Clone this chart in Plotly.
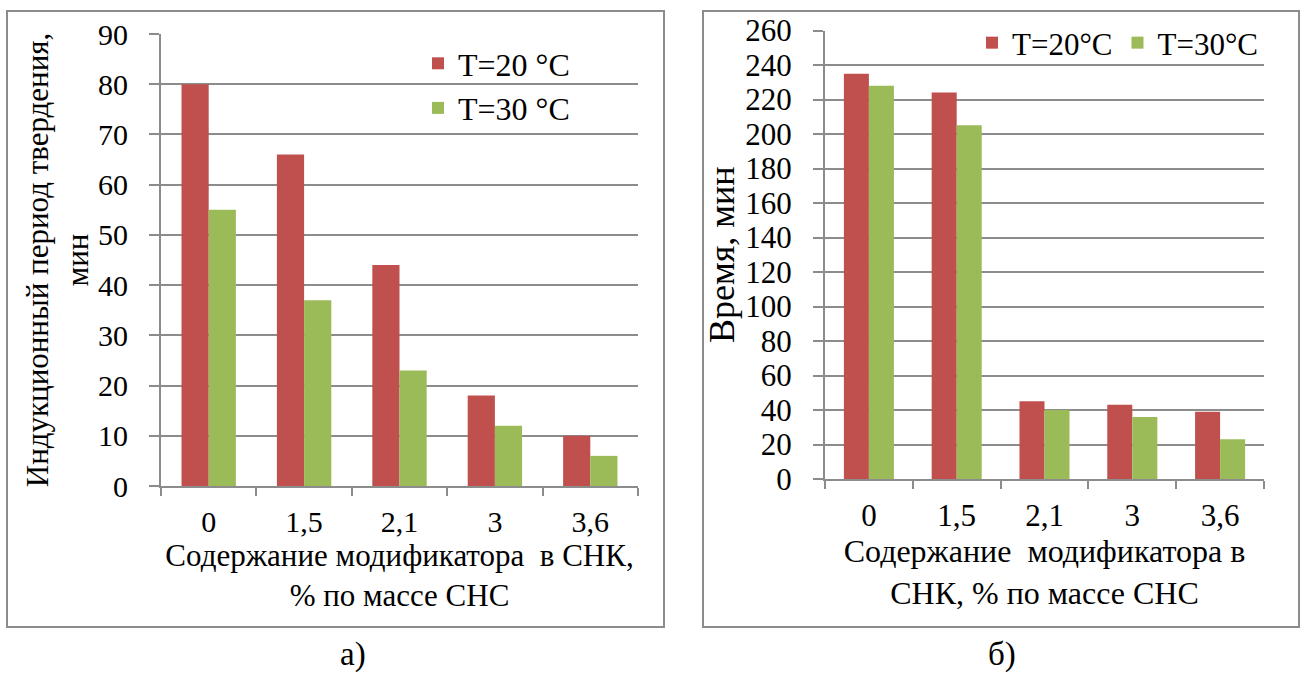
import plotly.graph_objects as go

# Modifier content in the binder, % by mass
categories = ["0", "1,5", "2,1", "3", "3,6"]

# (a) induction period of hardening, min
induction_t20 = [80, 66, 44, 18, 10]
induction_t30 = [55, 37, 23, 12, 6]

# (b) time, min
time_t20 = [235, 224, 45, 43, 39]
time_t30 = [228, 205, 40, 36, 23]

RED = "#C0504D"
GREEN = "#9BBB59"
GRID = "#8C8C8C"
FONT = "Times New Roman"

W, H = 1302, 675


def px_x(x):
    return x / W


def px_y(y):
    return 1 - y / H


def txt(size):
    return dict(family=FONT, size=size, color="black")


fig = go.Figure()

fig.add_trace(go.Bar(x=categories, y=induction_t20, name="T=20 °C", marker_color=RED,
                     marker_line_width=0, xaxis="x", yaxis="y", legend="legend"))
fig.add_trace(go.Bar(x=categories, y=induction_t30, name="T=30 °C", marker_color=GREEN,
                     marker_line_width=0, xaxis="x", yaxis="y", legend="legend"))
fig.add_trace(go.Bar(x=categories, y=time_t20, name="T=20°C", marker_color=RED,
                     marker_line_width=0, xaxis="x2", yaxis="y2", legend="legend2"))
fig.add_trace(go.Bar(x=categories, y=time_t30, name="T=30°C", marker_color=GREEN,
                     marker_line_width=0, xaxis="x2", yaxis="y2", legend="legend2"))

xaxis_common = dict(
    type="category", tickson="boundaries", ticks="outside", ticklen=8,
    tickwidth=2, tickcolor=GRID, showline=True, linecolor=GRID, linewidth=2,
    showgrid=False, ticklabelstandoff=8,
)
yaxis_common = dict(
    ticks="outside", ticklen=10, tickwidth=2, tickcolor=GRID, showline=True,
    linecolor=GRID, linewidth=2, showgrid=True, gridcolor=GRID, gridwidth=2,
    zeroline=False, ticklabelstandoff=15,
)

fig.update_layout(
    template="none",
    width=W, height=H,
    margin=dict(l=0, r=0, t=0, b=0),
    paper_bgcolor="white", plot_bgcolor="white",
    barmode="group", bargap=0.43, bargroupgap=0,
    xaxis=dict(xaxis_common, domain=[px_x(161), px_x(638)], anchor="y",
               tickfont=txt(30),
               title=dict(text="Содержание модификатора  в СНК,<br>% по массе СНС",
                          standoff=6, font=txt(31))),
    yaxis=dict(yaxis_common, domain=[px_y(486), px_y(34)], anchor="x",
               range=[0, 90], dtick=10, tickfont=txt(30),
               title=dict(text="Индукционный период твердения,<br>мин", standoff=0,
                          font=txt(31))),
    xaxis2=dict(xaxis_common, domain=[px_x(825), px_x(1264)], anchor="y2",
                tickfont=txt(31),
                title=dict(text="Содержание  модификатора в<br>СНК, % по массе СНС",
                           standoff=4, font=txt(32))),
    yaxis2=dict(yaxis_common, domain=[px_y(479), px_y(30.5)], anchor="x2",
                range=[0, 260], dtick=20, tickfont=txt(31),
                title=dict(text="Время, мин", standoff=0, font=txt(36))),
    legend=dict(x=px_x(418), y=px_y(36), xanchor="left", yanchor="top",
                orientation="v", bgcolor="rgba(0,0,0,0)", font=txt(32)),
    legend2=dict(x=px_x(972), y=px_y(16), xanchor="left", yanchor="top",
                 orientation="h", bgcolor="rgba(0,0,0,0)", font=txt(31)),
    shapes=[
        dict(type="rect", xref="paper", yref="paper",
             x0=px_x(7), x1=px_x(664), y0=px_y(627), y1=px_y(11),
             line=dict(color=GRID, width=2), fillcolor="rgba(0,0,0,0)", layer="below"),
        dict(type="rect", xref="paper", yref="paper",
             x0=px_x(703), x1=px_x(1299), y0=px_y(627), y1=px_y(11),
             line=dict(color=GRID, width=2), fillcolor="rgba(0,0,0,0)", layer="below"),
    ],
)

fig.add_annotation(text="а)", xref="paper", yref="paper", x=px_x(338), y=0,
                   yanchor="bottom", showarrow=False, font=txt(33))
fig.add_annotation(text="б)", xref="paper", yref="paper", x=px_x(1018), y=0,
                   yanchor="bottom", showarrow=False, font=txt(33))

fig.write_html("out.html")
